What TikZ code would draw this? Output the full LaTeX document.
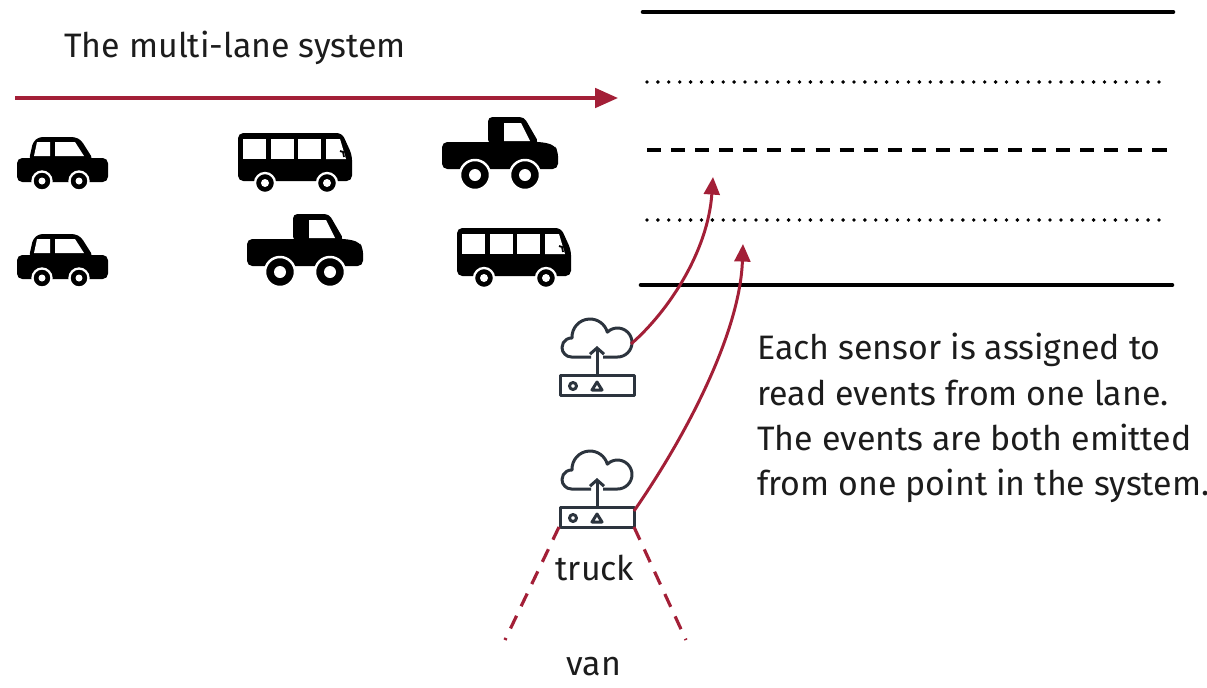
\documentclass[tikz,border=0pt]{standalone}
\usepackage{fontspec}
\setmainfont{Fira Sans}
\usepackage{tikz}
\usetikzlibrary{positioning}
\usetikzlibrary{calc}
\usetikzlibrary{arrows.meta}

\definecolor{lanered}{RGB}{163,31,55}
\definecolor{iconink}{RGB}{44,52,62}
\definecolor{penink}{RGB}{28,28,28}

\begin{document}
\begin{tikzpicture}[
    x=0.02cm, y=-0.02cm,                     % one unit per pixel, y runs down
    font=\fontsize{19.3}{25.8}\selectfont,   % same hand for every label
    ]
% -------------------------------------------------
\tikzset{
  lane/.style={draw=black, line width=2.6pt, line cap=round},
  lanedots/.style={draw=black, line width=2.2pt, line cap=round, dash pattern=on 0pt off 6.2pt},
  lanedash/.style={draw=black, line width=2pt, dash pattern=on 8pt off 5.7pt},
  flow/.style={draw=lanered, line width=2pt, -{Triangle[length=13pt,width=11pt]}},
  feed/.style={draw=lanered, line width=1.7pt, -{Triangle[length=10pt,width=9pt]}},
  cone/.style={draw=lanered, line width=1.8pt, dash pattern=on 8pt off 6pt},
  label/.style={text=penink, inner sep=0pt},
  % vehicles, drawn from their top left corner
  car/.pic={
    \fill[rounded corners=3pt] (0,21) rectangle (91,45);
    \fill[rounded corners=2pt] (12,23) -- (16,5) -- (22,0) -- (58,0) -- (64,3) -- (76,22) -- cycle;
    \fill[white] (20,5) -- (33,5) -- (33,19) -- (17,19) -- cycle;
    \fill[white] (38,5) -- (58,5) -- (67,19) -- (38,19) -- cycle;
    \foreach \wx in {25,62} {
      \filldraw[draw=white, line width=1.3pt] (\wx,44) circle[radius=9.5];
      \fill[white] (\wx,44) circle[radius=3.5];
    }
  },
  bus/.pic={
    \fill[rounded corners=3pt] (0,0) -- (104,0) -- (114,22) -- (114,48) -- (0,48) -- cycle;
    \foreach \wx in {5,33,60} \fill[white] (\wx,6) rectangle ++(23,20);
    \fill[white] (88,6) -- (102,6) -- (108,26) -- (88,26) -- cycle;
    \draw[line width=1pt] (102,18) -- (105,19) -- (106,24);
    \foreach \wx in {27,89} {
      \filldraw[draw=white, line width=1.3pt] (\wx,50) circle[radius=10];
      \fill[white] (\wx,50) circle[radius=4];
    }
  },
  truck/.pic={
    \fill[rounded corners=3pt] (0,25) -- (100,25) -- (112,28) -- (116,34) -- (116,52) -- (0,52) -- cycle;
    \fill[rounded corners=2.5pt] (46,27) -- (46,0) -- (82,0) -- (97,26) -- cycle;
    \fill[white] (62,6) -- (79,6) -- (88,24) -- (62,24) -- cycle;
    \foreach \wx in {33,83} {
      \filldraw[draw=white, line width=1.4pt] (\wx,58) circle[radius=15];
      \fill[white] (\wx,58) circle[radius=6];
    }
  },
  % sensor icon, drawn from the centre of its box
  sensor/.pic={
    \begin{scope}[color=iconink, line width=1.7pt, line join=round]
      \draw (-37,-10) rectangle (37,10);
      \draw (-24,1) circle[radius=3.5];
      \draw (-5,5) -- (5,5) -- (0,-3) -- cycle;
      \draw[-{Straight Barb[length=3.5pt,width=8pt]}] (0,-10) -- (0,-39);
      \draw (-6,-28) -- (-25.5,-28)
            arc[start angle=90, end angle=273.2, radius=9.5]
            arc[start angle=176.8, end angle=344.4, radius=18]
            arc[start angle=225.5, end angle=450, radius=14.5] -- (6,-28);
    \end{scope}
    \coordinate (-cloud) at (34,-41);
    \coordinate (-port) at (37,-6);
    \coordinate (-sw) at (-38,10);
    \coordinate (-se) at (37,10);
  },
}
% -------------------------------------------------
\fill[white] (0,0) rectangle (1207,687);
\useasboundingbox (0,0) rectangle (1207,687);

% The lanes
\draw[lane] (643,12) -- (1173,12);
\draw[lanedots] (647,82) -- (1166,82);
\draw[lanedash] (647,150) -- (1173,150);
\draw[lanedots] (647,220) -- (1166,220);
\draw[lane] (641,285) -- (1172,285);

% Traffic heading into the lanes
\node[label, anchor=base west] (title) at (64,57) {The multi-lane system};
\coordinate (flowstart) at (15,98);
\coordinate (flowend) at (618,98);
\draw[flow] (flowstart) -- (flowend);

\pic (carA) at (17,137) {car};
\pic (busA) at (238,133) {bus};
\pic (truckA) at (442,117) {truck};
\pic (carB) at (17,234) {car};
\pic (truckB) at (247,214) {truck};
\pic (busB) at (457,228) {bus};

% Sensors and what they read
\pic (sa) at (597,385) {sensor};
\pic (sb) at (597,517) {sensor};

\coordinate (laneB) at (713,177);
\coordinate (laneD) at (743,244);
\draw[feed] (sa-cloud) .. controls (670,310) and (708,250) .. (laneB);
\draw[feed] (sb-port) .. controls (690,430) and (740,330) .. (laneD);

\coordinate (coneL) at (505,640);
\coordinate (coneR) at (686,640);
\draw[cone] (sb-sw) -- (coneL);
\draw[cone] (sb-se) -- (coneR);

\node[label, anchor=base] (truck) at (595,580) {truck};
\node[label, anchor=base] (van) at (594,675) {van};

\node[label, anchor=north west, align=left] (note) at (757,333)
  {Each sensor is assigned to\\read events from one lane.\\The events are both emitted\\from one point in the system.};

\end{tikzpicture}
\end{document}
